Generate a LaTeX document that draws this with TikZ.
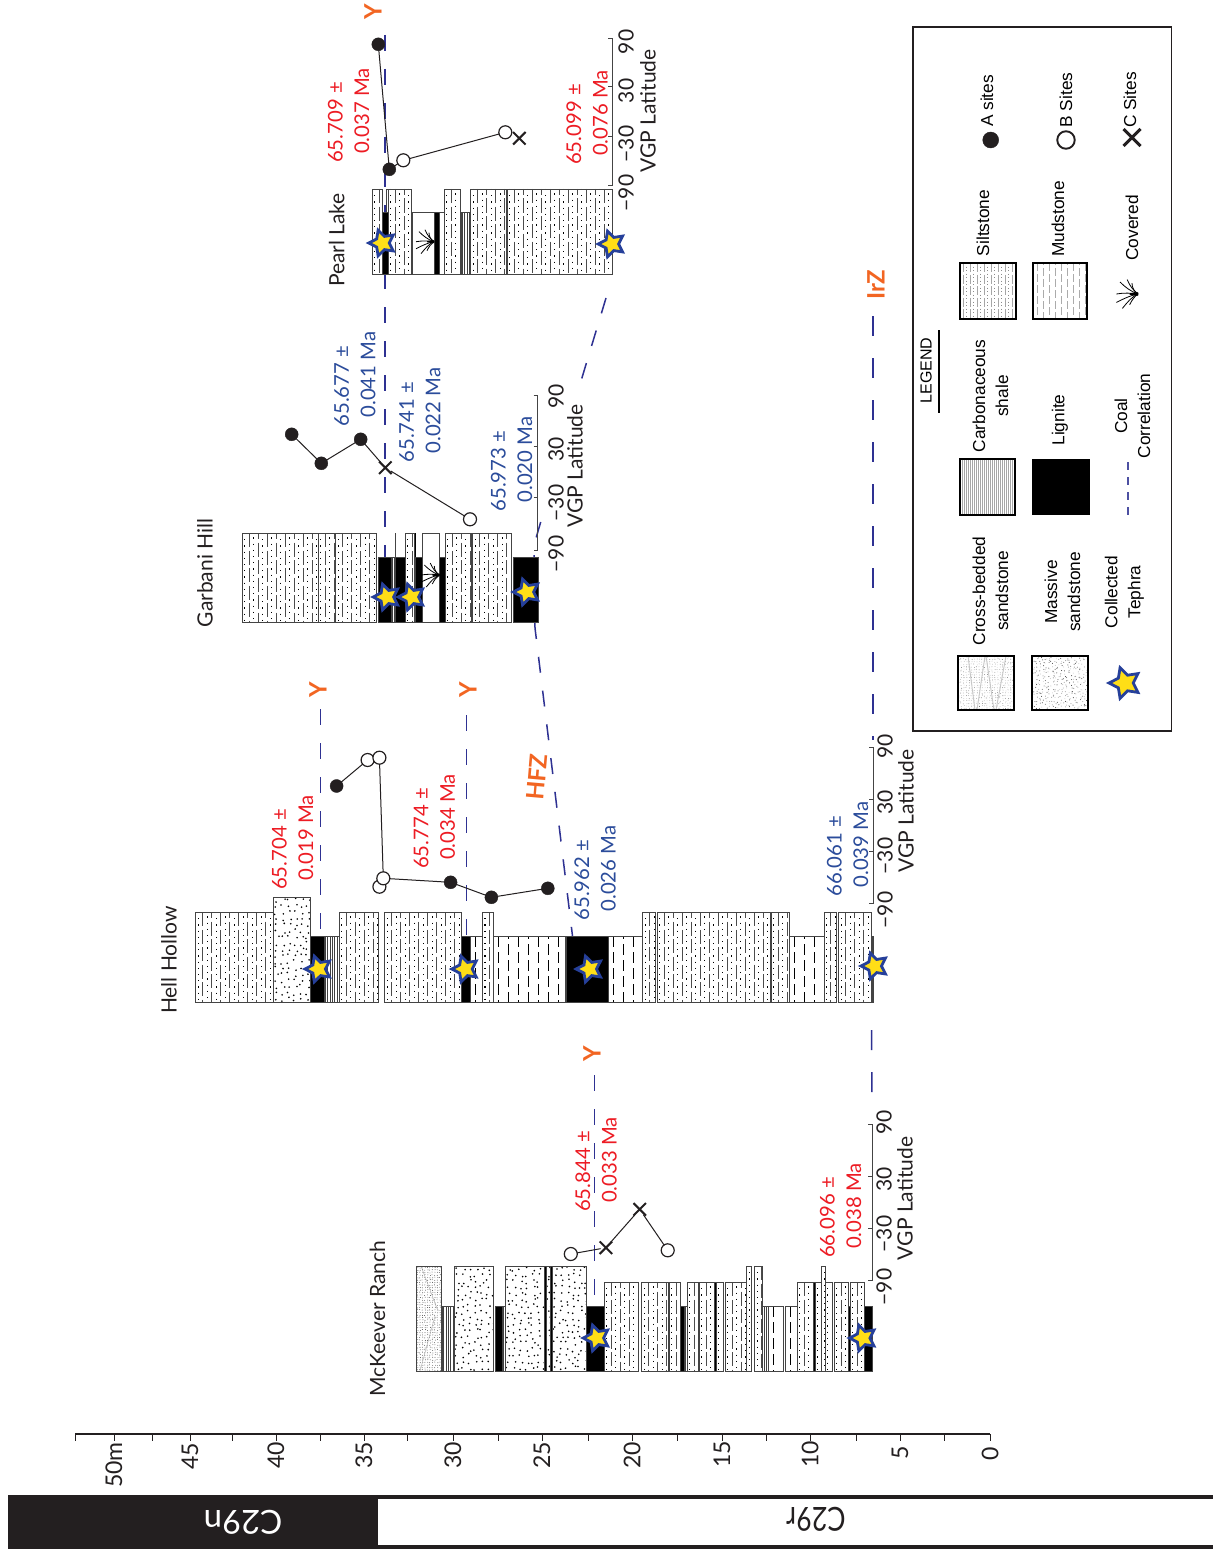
\documentclass[tikz,border=0pt]{standalone}
\usepackage{fontspec}
\usetikzlibrary{shapes.geometric,shapes.misc}
\setmainfont{Lato}
\newfontfamily\legf{Liberation Sans}
\newfontfamily\chronf[FakeStretch=0.82]{Lato}
\definecolor{starblue}{HTML}{26409A}
\definecolor{staryel}{HTML}{FFDE17}
\definecolor{corrblue}{HTML}{2E3192}
\definecolor{datered}{HTML}{ED1C24}
\definecolor{dateblue}{HTML}{2B4C9B}
\definecolor{orangelab}{HTML}{F26522}
\definecolor{chrondark}{HTML}{231F20}
\definecolor{axgray}{HTML}{444444}
\pgfmathsetseed{4217}
% ---- lithology patterns: #1 x1, #2 x2, #3 ytop, #4 ybottom
\newcommand{\patL}[4]{\fill[black] (#1,#3) rectangle (#2,#4);}
\newcommand{\patW}[4]{}
\newcommand{\patC}[4]{%
  \pgfmathtruncatemacro{\nn}{(#2-#1)/2.4}%
  \foreach \k in {0,...,\nn}{\pgfmathsetmacro{\px}{#1+1.2+2.4*\k}\draw[line width=.45pt,black!75] (\px,#3) -- (\px,#4);}}
\newcommand{\patD}[4]{%
  \pgfmathtruncatemacro{\nn}{(#2-#1)/10}%
  \foreach \k in {0,...,\nn}{\pgfmathsetmacro{\px}{#1+5+10*\k}\pgfmathsetmacro{\ph}{mod(\k,2)*8}%
    \draw[line width=.8pt,black,dash pattern=on 11pt off 5pt,dash phase=\ph pt] (\px,#3) -- (\px,#4);}}
\newcommand{\patM}[4]{%
  \pgfmathtruncatemacro{\nn}{(#2-#1)/9}%
  \foreach \k in {0,...,\nn}{\pgfmathsetmacro{\px}{#1+2.5+9*\k}\pgfmathsetmacro{\qx}{\px+4.5}\pgfmathsetmacro{\ph}{mod(\k,2)*8}%
    \draw[line width=1.1pt,black,dash pattern=on 1.2pt off 5pt,dash phase=\ph pt] (\px,#3) -- (\px,#4);
    \draw[line width=.85pt,black!70,dash pattern=on 14pt off 3.5pt,dash phase=\ph pt] (\qx,#3) -- (\qx,#4);}}
\newcommand{\patS}[4]{%
  \pgfmathtruncatemacro{\nn}{(#2-#1)/6.2}\pgfmathtruncatemacro{\mm}{(#4-#3)/6.2}%
  \foreach \k in {0,...,\nn}{\foreach \j in {0,...,\mm}{%
    \pgfmathsetmacro{\px}{#1+3+6.2*\k+4.4*rnd-2.2}\pgfmathsetmacro{\py}{#3+3+6.2*\j+4.4*rnd-2.2}%
    \fill[black] (\px,\py) circle (.9pt);}}}
\newcommand{\patX}[4]{%
  \pgfmathtruncatemacro{\nn}{(#2-#1)/2.5}\pgfmathtruncatemacro{\mm}{(#4-#3)/2.5}%
  \foreach \k in {0,...,\nn}{\foreach \j in {0,...,\mm}{%
    \pgfmathsetmacro{\px}{#1+1+2.5*\k+1*rnd}\pgfmathsetmacro{\py}{#3+1+2.5*\j+1*rnd}%
    \fill[black!70] (\px,\py) circle (.45pt);}}
  \draw[black!35,line width=.4pt] (#1+5,#3) -- (#2-3,#3+45) (#2-6,#3+50) -- (#1+4,#4);}
% one stratigraphic unit: type, x1, x2, ytop, ybottom
\newcommand{\strat}[5]{%
  \fill[white] (#2,#4) rectangle (#3,#5);
  \begin{scope}\clip (#2,#4) rectangle (#3,#5);\csname pat#1\endcsname{#2}{#3}{#4}{#5}\end{scope}
  \draw[unitline] (#2,#4) rectangle (#3,#5);}
\newcommand{\swatchbox}[4]{\draw[swatch] (#1,#3) rectangle (#2,#4);}
% covered symbol
\newcommand{\plantmark}[3]{%
  \begin{scope}[shift={(#1,#2)},scale=#3]
    \draw[plantline] (0,0) .. controls (-6,-1) and (-12,-1) .. (-18,0);
    \draw[plantline] (0,0) .. controls (-6,-2) and (-11,-6) .. (-15,-10);
    \draw[plantline] (0,0) .. controls (-4,-3) and (-7,-7) .. (-9,-12);
    \draw[plantline] (0,0) .. controls (-3,-2) and (-5,-5) .. (-5,-9);
    \draw[plantline] (0,0) .. controls (-6,1) and (-12,4) .. (-18,7);
    \draw[plantline] (0,0) .. controls (-5,2) and (-9,7) .. (-13,12);
    \draw[plantline] (0,0) .. controls (-3,2) and (-5,5) .. (-7,9);
    \fill[black] (0,-1.5) -- (-7,-.6) -- (-7,.6) -- (0,1.5) -- cycle;
  \end{scope}}
\tikzset{
  x=1pt,y=-1pt,
  unitline/.style={draw=axgray,line width=.8pt},
  swatch/.style={draw=black,line width=2.4pt},
  plantline/.style={draw=black,line width=.8pt},
  corr/.style={draw=corrblue,line width=1.5pt,dash pattern=on 16pt off 18pt},
  corrlong/.style={draw=corrblue,line width=1.5pt,dash pattern=on 20pt off 22pt},
  tephra/.style={star,star points=5,star point ratio=1.95,shape border rotate=90,draw=starblue,fill=staryel,line width=2.8pt,minimum size=27pt,inner sep=0pt},
  asite/.style={circle,fill=chrondark,draw=chrondark,minimum size=13pt,inner sep=0pt},
  bsite/.style={circle,fill=white,draw=chrondark,line width=1.2pt,minimum size=13pt,inner sep=0pt},
  csite/.style={cross out,draw=chrondark,line width=2pt,minimum size=10.5pt,inner sep=0pt},
  vgp/.style={draw=chrondark,line width=1pt,shorten <=-1pt,shorten >=-1pt},
  axisline/.style={draw=axgray,line width=1pt},
  rtext/.style={rotate=90,inner sep=0pt},
  title/.style={rtext,font=\fontsize{21}{25}\selectfont,text=chrondark},
  ticklab/.style={rtext,font=\fontsize{21}{25}\selectfont,text=chrondark},
  scalelab/.style={rtext,font=\fontsize{23}{27}\selectfont,text=chrondark},
  dater/.style={rtext,anchor=west,align=left,text=datered,font=\fontsize{20.3}{26.5}\selectfont},
  dateb/.style={rtext,anchor=west,align=left,text=dateblue,font=\fontsize{20.3}{26.5}\selectfont},
  event/.style={rtext,text=orangelab,font=\bfseries\fontsize{24}{28}\selectfont},
  leg/.style={rtext,align=center,text=black,font=\legf\fontsize{17.3}{23}\selectfont},
  chron/.style={rotate=180,inner sep=0pt,font=\chronf\fontsize{33}{36}\selectfont},
  chronwide/.style={rotate=180,inner sep=0pt,font=\fontsize{33}{36}\selectfont},
}
\begin{document}
\begin{tikzpicture}
\useasboundingbox (0,0) rectangle (1213,1549);
\fill[white] (0,0) rectangle (1213,1549);

% ---------- correlation lines (behind the columns)
\coordinate (yMa) at (594.5,1075); \coordinate (yMb) at (594.5,1306);
\coordinate (yHa) at (320.5,709);  \coordinate (yHb) at (320.5,936);
\coordinate (yHc) at (466.3,715);  \coordinate (yHd) at (466.3,1002);
\coordinate (yPa) at (385,35);     \coordinate (yPb) at (385,560);
\coordinate (hfA) at (606,298);    \coordinate (hfA2) at (581,381);
\coordinate (hfB0) at (540.7,522); \coordinate (hfB) at (534,545);
\coordinate (hfC) at (535,628);    \coordinate (hfD) at (572.5,936);
\coordinate (irA) at (873,316);    \coordinate (irB) at (873,740);
\coordinate (irC) at (871.5,1030); \coordinate (irD) at (872,1113);
\draw[corr] (yMa) -- (yMb);
\draw[corr] (yHa) -- (yHb);
\draw[corr] (yHc) -- (yHd);
\draw[corr] (yPa) -- (yPb);
\draw[corr] (hfA) -- (hfA2);
\draw[corr] (hfB0) -- (hfB) -- (hfC) -- (hfD);
\draw[corrlong] (irA) -- (irB);
\draw[corrlong] (irC) -- (irD);

% ---------- McKeever Ranch column
\strat{X}{416}{441}{1266}{1371}
\strat{C}{442.3}{454.3}{1306}{1371}
\strat{S}{454.3}{493.3}{1266}{1371}
\strat{L}{495.7}{502}{1306}{1371}
\strat{C}{502}{505.3}{1306}{1371}
\strat{S}{505.3}{544}{1266}{1371}
\strat{L}{544}{546}{1266}{1371}
\strat{S}{546}{550.5}{1266}{1371}
\strat{L}{550.5}{552}{1266}{1371}
\strat{S}{552}{586}{1266}{1371}
\strat{L}{586}{604}{1306}{1371}
\strat{M}{604}{638}{1282}{1371}
\strat{M}{641.7}{668.7}{1282}{1371}
\strat{M}{669.3}{680.7}{1282}{1371}
\strat{L}{680.7}{684.5}{1306}{1371}
\strat{C}{684.5}{687.3}{1306}{1371}
\strat{M}{687.3}{698.3}{1282}{1371}
\strat{M}{699}{714}{1282}{1371}
\strat{L}{714}{716}{1282}{1371}
\strat{M}{716}{723.3}{1282}{1371}
\strat{M}{725}{746.7}{1282}{1371}
\strat{M}{746.7}{751.7}{1266}{1371}
\strat{M}{754.7}{762.7}{1266}{1371}
\strat{C}{762.7}{768.3}{1306}{1371}
\strat{D}{768.3}{783.3}{1306}{1371}
\strat{D}{785}{797.3}{1306}{1371}
\strat{M}{797.3}{813.3}{1282}{1371}
\strat{L}{813.3}{815}{1282}{1371}
\strat{M}{815}{821.7}{1282}{1371}
\strat{M}{821.7}{825}{1266}{1371}
\strat{M}{825}{832.7}{1282}{1371}
\strat{M}{834}{848}{1282}{1371}
\strat{L}{848}{850}{1306}{1371}
\strat{M}{850}{864}{1282}{1371}
\strat{L}{864}{872.3}{1306}{1371}

% ---------- Hell Hollow column
\strat{M}{195.7}{273.8}{912}{1002}
\strat{S}{273.8}{310}{897}{1002}
\strat{L}{310}{323.9}{936}{1002}
\strat{C}{323.9}{339}{936}{1002}
\strat{M}{339}{378.4}{912}{1002}
\strat{M}{384.8}{461.4}{912}{1002}
\strat{L}{461.4}{470.7}{936}{1002}
\strat{D}{470.7}{482.5}{936}{1002}
\strat{M}{482.5}{493.8}{912}{1002}
\strat{D}{493.8}{565}{936}{1002}
\strat{L}{566}{608.7}{936}{1002}
\strat{D}{608.7}{642.6}{936}{1002}
\strat{M}{642.6}{654.9}{912}{1002}
\strat{M}{657.4}{770.3}{912}{1002}
\strat{M}{771.3}{789.5}{912}{1002}
\strat{D}{789.5}{823.9}{936}{1002}
\strat{M}{823.9}{836.1}{912}{1002}
\strat{M}{838.6}{871}{912}{1002}
\strat{L}{872}{873.5}{936}{1002}

% ---------- Garbani Hill column
\strat{M}{242.3}{318.3}{533}{622.7}
\strat{M}{318.3}{335.7}{533}{622.7}
\strat{M}{335.7}{376}{533}{622.7}
\strat{L}{378.3}{391}{557}{622.7}
\strat{C}{391}{395.7}{557}{622.7}
\strat{L}{395.7}{405}{557}{622.7}
\strat{M}{405}{414.3}{533}{622.7}
\strat{L}{415.7}{422.3}{557}{622.7}
\strat{W}{422.3}{439.3}{533}{622.7}
\strat{L}{439.3}{445}{557}{622.7}
\strat{M}{445}{471.7}{533}{622.7}
\strat{M}{472.7}{511.7}{533}{622.7}
\strat{L}{513.3}{538.3}{557}{622.7}
\coordinate (gsA) at (395.7,533); \coordinate (gsB) at (395.7,557);
\coordinate (gsC) at (415,533);   \coordinate (gsD) at (415,557);
\draw[unitline] (gsA) -- (gsB);
\draw[draw=black,line width=1pt] (gsC) -- (gsD);
\plantmark{439.3}{575}{1}

% ---------- Pearl Lake column
\strat{M}{372.3}{382}{189}{274}
\strat{L}{382}{388}{212}{274}
\strat{M}{388}{411.7}{189}{274}
\strat{M}{386.3}{388}{189}{212}
\strat{W}{412.3}{434}{212}{274}
\strat{L}{434}{439.3}{212}{274}
\strat{W}{439.3}{444.3}{212}{274}
\strat{M}{444.3}{460}{189}{274}
\strat{C}{461}{470.7}{212}{274}
\strat{M}{470.7}{506.7}{189}{274}
\strat{M}{507.3}{612.7}{189}{274}
\plantmark{434}{241.7}{1}

% ---------- tephra stars
\node[tephra] (tm1) at (596.7,1338) {};
\node[tephra] (tm2) at (863,1338) {};
\node[tephra] (th1) at (318.5,969) {};
\node[tephra] (th2) at (465.3,969) {};
\node[tephra] (th3) at (589.6,969) {};
\node[tephra] (th4) at (874.5,966) {};
\node[tephra] (tg1) at (386.7,597) {};
\node[tephra] (tg2) at (411.7,597) {};
\node[tephra] (tg3) at (526.7,592) {};
\node[tephra] (tp1) at (382.3,243) {};
\node[tephra] (tp2) at (611.7,244) {};

% ---------- VGP axes: McKeever
\coordinate (am0) at (868,1124.7); \coordinate (am1) at (872,1124.7); \coordinate (am2) at (872,1280); \coordinate (am3) at (868,1280);
\coordinate (am4) at (868,1176.7); \coordinate (am5) at (872,1176.7); \coordinate (am6) at (868,1228); \coordinate (am7) at (872,1228);
\draw[axisline] (am0) -- (am1) -- (am2) -- (am3);
\draw[axisline] (am4) -- (am5); \draw[axisline] (am6) -- (am7);
\node[ticklab] (lm1) at (884,1122) {90};
\node[ticklab] (lm2) at (884,1179) {30};
\node[ticklab] (lm3) at (884,1234) {−30};
\node[ticklab] (lm4) at (884,1287) {−90};
\node[ticklab] (lmv) at (905,1198.5) {VGP Latitude};
% Hell Hollow
\coordinate (ah0) at (869,747.7); \coordinate (ah1) at (873.5,747.7); \coordinate (ah2) at (873.5,903); \coordinate (ah3) at (869,903);
\coordinate (ah4) at (869,799); \coordinate (ah5) at (873.5,799); \coordinate (ah6) at (869,851.7); \coordinate (ah7) at (873.5,851.7);
\draw[axisline] (ah0) -- (ah1) -- (ah2) -- (ah3);
\draw[axisline] (ah4) -- (ah5); \draw[axisline] (ah6) -- (ah7);
\node[ticklab] (lh1) at (885,746) {90};
\node[ticklab] (lh2) at (885,802) {30};
\node[ticklab] (lh3) at (885,856) {−30};
\node[ticklab] (lh4) at (885,910) {−90};
\node[ticklab] (lhv) at (906,811) {VGP Latitude};
% Garbani Hill
\coordinate (ag0) at (533.5,395); \coordinate (ag1) at (537.7,395); \coordinate (ag2) at (537.7,550); \coordinate (ag3) at (533.5,550);
\coordinate (ag4) at (533.5,446); \coordinate (ag5) at (537.7,446); \coordinate (ag6) at (533.5,497.7); \coordinate (ag7) at (537.7,497.7);
\draw[axisline] (ag0) -- (ag1) -- (ag2) -- (ag3);
\draw[axisline] (ag4) -- (ag5); \draw[axisline] (ag6) -- (ag7);
\node[ticklab] (lg1) at (556,396) {90};
\node[ticklab] (lg2) at (556,449) {30};
\node[ticklab] (lg3) at (556,503) {−30};
\node[ticklab] (lg4) at (556,554) {−90};
\node[ticklab] (lgv) at (575,466) {VGP Latitude};
% Pearl Lake
\coordinate (ap0) at (608,38.3); \coordinate (ap1) at (612.3,38.3); \coordinate (ap2) at (612.3,185.7); \coordinate (ap3) at (608,185.7);
\coordinate (ap4) at (608,87); \coordinate (ap5) at (612.3,87); \coordinate (ap6) at (608,137); \coordinate (ap7) at (612.3,137);
\draw[axisline] (ap0) -- (ap1) -- (ap2) -- (ap3);
\draw[axisline] (ap4) -- (ap5); \draw[axisline] (ap6) -- (ap7);
\node[ticklab] (lp1) at (626,42) {90};
\node[ticklab] (lp2) at (626,91) {30};
\node[ticklab] (lp3) at (626,144) {−30};
\node[ticklab] (lp4) at (626,193) {−90};
\node[ticklab] (lpv) at (648,111) {VGP Latitude};

% ---------- VGP data
\node[bsite] (m1) at (570.8,1254) {};
\node[csite] (m2) at (605.9,1247.7) {};
\node[csite] (m3) at (639.7,1209.3) {};
\node[bsite] (m4) at (667.7,1250.3) {};
\draw[vgp] (m1) -- (m2); \draw[vgp] (m2) -- (m3); \draw[vgp] (m3) -- (m4);

\node[asite] (h1) at (336.6,786) {};
\node[bsite] (h2) at (367.6,760) {};
\node[bsite] (h3) at (379.4,757.7) {};
\node[bsite] (h5) at (379.4,886.7) {};
\node[bsite] (h4) at (383.3,878.3) {};
\node[asite] (h6) at (450.6,882.3) {};
\node[asite] (h7) at (491.4,897.3) {};
\node[asite] (h8) at (547.8,888.3) {};
\draw[vgp] (h1) -- (h2); \draw[vgp] (h3) -- (h4); \draw[vgp] (h4) -- (h6); \draw[vgp] (h6) -- (h7); \draw[vgp] (h7) -- (h8);

\node[asite] (g1) at (291.7,434.3) {};
\node[asite] (g2) at (321.3,463.3) {};
\node[asite] (g3) at (360.7,439.3) {};
\node[csite] (g4) at (385.3,467.7) {};
\node[bsite] (g5) at (470,519.3) {};
\draw[vgp] (g1) -- (g2); \draw[vgp] (g2) -- (g3); \draw[vgp] (g3) -- (g4); \draw[vgp] (g4) -- (g5);

\node[asite] (p1) at (378.3,44.3) {};
\node[asite] (p2) at (389.3,169.3) {};
\node[bsite] (p3) at (403.3,160.3) {};
\node[bsite] (p4) at (505.3,132.3) {};
\node[csite] (p5) at (519.3,138.3) {};
\draw[vgp] (p1) -- (p2); \draw[vgp] (p2) -- (p3); \draw[vgp] (p3) -- (p4);

% ---------- column titles
\node[title] (tMc) at (377.5,1318.5) {McKeever Ranch};
\node[title] (tHe) at (169,960) {Hell Hollow};
\node[title] (tGa) at (205,573) {Garbani Hill};
\node[title] (tPe) at (336.7,240) {Pearl Lake};

% ---------- dates
\node[dater] (d1) at (348.5,163) {65.709 ±\\\hspace*{9pt}0.037 Ma};
\node[dater] (d2) at (587,165) {65.099 ±\\\hspace*{9pt}0.076 Ma};
\node[dater] (d3) at (596,1212) {65.844 ±\\\hspace*{9pt}0.033 Ma};
\node[dater] (d4) at (840.5,1258) {66.096 ±\\\hspace*{9pt}0.038 Ma};
\node[dater] (d5) at (292.5,890) {65.704 ±\\\hspace*{9pt}0.019 Ma};
\node[dater] (d6) at (434.5,869) {65.774 ±\\\hspace*{9pt}0.034 Ma};
\node[dateb] (d7) at (595,920.7) {65.962 ±\\\hspace*{9pt}0.026 Ma};
\node[dateb] (d8) at (847.5,896.7) {66.061 ±\\\hspace*{9pt}0.039 Ma};
\node[dateb] (d9) at (355,426.7) {65.677 ±\\\hspace*{9pt}0.041 Ma};
\node[dateb] (d10) at (420,462.7) {65.741 ±\\\hspace*{9pt}0.022 Ma};
\node[dateb] (d11) at (511.5,511.7) {65.973 ±\\\hspace*{9pt}0.020 Ma};

% ---------- event labels
\node[event] (eY1) at (373,12) {Y};
\node[event] (eY2) at (318,690) {Y};
\node[event] (eY3) at (468,690) {Y};
\node[event] (eY4) at (592,1054) {Y};
\node[event,rotate=-5] (eH) at (537,777) {HFZ};
\node[event] (eI) at (876,285) {IrZ};

% ---------- metre scale
\coordinate (sA) at (75,1434); \coordinate (sB) at (990,1434);
\draw[draw=chrondark,line width=1.3pt] (sA) -- (sB);
\foreach \tx in {75,114.3,152.3,190,232.3,276,320,364,407.7,453.3,498,542,588,632.7,677,722,766,810,856,900,944,990}
  \draw[draw=chrondark,line width=.9pt] (\tx,1434) -- (\tx,1440.5);
\node[scalelab] (s50) at (114,1465) {50m};
\node[scalelab] (s45) at (190,1456) {45};
\node[scalelab] (s40) at (276,1455) {40};
\node[scalelab] (s35) at (364,1455) {35};
\node[scalelab] (s30) at (453,1455) {30};
\node[scalelab] (s25) at (542,1455) {25};
\node[scalelab] (s20) at (632,1455) {20};
\node[scalelab] (s15) at (722,1454) {15};
\node[scalelab] (s10) at (810,1454) {10};
\node[scalelab] (s5) at (900,1453) {5};
\node[scalelab] (s0) at (990,1454) {0};

% ---------- chron bar
\fill[chrondark] (8,1495) rectangle (1213,1549);
\fill[white] (378,1499) rectangle (1213,1545);
\node[chronwide,text=white] (c29n) at (243,1522) {C29n};
\node[chron,text=chrondark] (c29r) at (816,1519) {C29r};

% ---------- legend
\node[draw=chrondark,line width=1.3pt,minimum width=258.5pt,minimum height=704pt,inner sep=0pt] (legbox) at (1042.3,379) {};
\node[rtext,text=black,font=\legf\fontsize{16}{20}\selectfont] (lgT) at (926,370.5) {LEGEND};
\coordinate (lgA) at (939,330); \coordinate (lgB) at (939,413);
\draw[draw=black,line width=1.8pt] (lgA) -- (lgB);

% swatches
\begin{scope}\clip (958,656) rectangle (1014,710);
  \foreach \k in {0,...,21}{\foreach \j in {0,...,21}{\pgfmathsetmacro{\px}{958+2.6*\k+1.2*rnd}\pgfmathsetmacro{\py}{656+2.6*\j+1.2*rnd}\pgfmathsetmacro{\sh}{15+rnd*50}\fill[black!\sh] (\px,\py) circle (.42pt);}}
  \draw[black!22,line width=.9pt] (968,656) -- (975,710) (985,656) -- (977,710) (986,656) -- (994,710) (1006,656) -- (996,710);
\end{scope}
\swatchbox{958}{1014}{656}{710}
\begin{scope}\clip (1032,656) rectangle (1088,710);
  \foreach \k in {0,...,18}{\foreach \j in {0,...,18}{\pgfmathsetmacro{\px}{1032+3.1*\k+3*rnd}\pgfmathsetmacro{\py}{656+3.1*\j+3*rnd}\pgfmathsetmacro{\sh}{15+rnd*70}\fill[black!\sh] (\px,\py) circle (.5pt);}}
\end{scope}
\swatchbox{1032}{1088}{656}{710}
\begin{scope}\clip (960,459) rectangle (1015,515);
  \foreach \k in {0,...,28}{\pgfmathsetmacro{\px}{960+2*\k}\draw[black!35,line width=.5pt] (\px,459) -- (\px,515);}
\end{scope}
\swatchbox{960}{1015}{459}{515}
\fill[black] (1032,459) rectangle (1090,515);
\begin{scope}\clip (960,263) rectangle (1016,319);
  \foreach \k in {0,...,7}{\pgfmathsetmacro{\px}{963+7*\k}\pgfmathsetmacro{\qx}{\px+3.5}
    \draw[black!35,line width=.9pt,dash pattern=on 9pt off 2.5pt] (\px,263) -- (\px,319);
    \draw[black!45,line width=.9pt,dash pattern=on .9pt off 2.6pt] (\qx,263) -- (\qx,319);}
\end{scope}
\swatchbox{960}{1016}{263}{319}
\begin{scope}\clip (1033,263) rectangle (1087,319);
  \foreach \k in {0,...,8}{\pgfmathsetmacro{\px}{1037+6*\k}\pgfmathsetmacro{\ph}{mod(\k,2)*6}
    \draw[black!33,line width=1pt,dash pattern=on 8pt off 3pt,dash phase=\ph pt] (\px,263) -- (\px,319);}
\end{scope}
\swatchbox{1033}{1087}{263}{319}
\node[tephra,minimum size=32pt,line width=2.8pt] (lgstar) at (1125,683) {};
\coordinate (lgcA) at (1128,462); \coordinate (lgcB) at (1128,517);
\draw[draw=corrblue!85,line width=2.5pt,dash pattern=on 8pt off 7pt] (lgcA) -- (lgcB);
\plantmark{1138}{294}{1.2}
\node[asite,minimum size=16pt] (lgA2) at (990.7,140) {};
\node[bsite,minimum size=17.5pt,line width=1.9pt] (lgB2) at (1066,140) {};
\node[csite,minimum size=14pt,line width=3pt] (lgC2) at (1132,137.5) {};

\node[leg] (tA) at (987,101) {A sites};
\node[leg] (tB) at (1066,100) {B Sites};
\node[leg] (tC) at (1130,100) {C Sites};
\node[leg] (t1) at (983,223) {Siltstone};
\node[leg] (t2) at (1058,219) {Mudstone};
\node[leg] (t3) at (1132,228) {Covered};
\node[leg] (t4) at (990.5,396) {Carbonaceous\\shale};
\node[leg] (t5) at (1060,420) {Lignite};
\node[leg] (t6) at (1132.5,416) {Coal\\Correlation};
\node[leg] (t7) at (990.5,591) {Cross-bedded\\sandstone};
\node[leg] (t8) at (1062.5,592) {Massive\\sandstone};
\node[leg] (t9) at (1124.5,592) {Collected\\Tephra};
\end{tikzpicture}
\end{document}
